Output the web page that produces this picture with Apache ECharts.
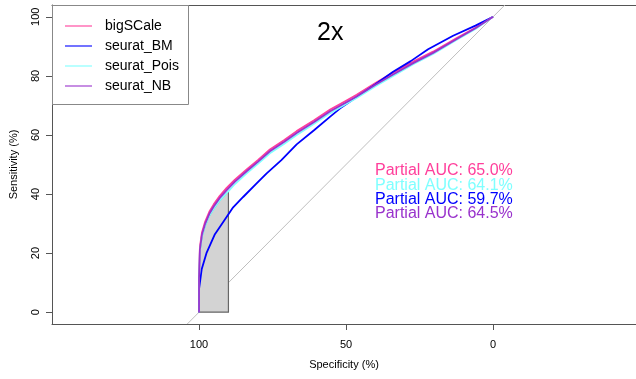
<!DOCTYPE html>
<html><head><meta charset="utf-8">
<script src="https://cdn.jsdelivr.net/npm/echarts@6/dist/echarts.min.js"></script>
<style>html,body{margin:0;padding:0;background:#fff}#c{width:636px;height:379px}</style>
</head><body><div id="c"></div>
<script>
// [specificity %, sensitivity %]
const bigSCale = [[100,0],[100,12],[99.7,22],[99,27],[98,30.4],[96.5,34],[95,36.5],[93,39.3],[90.6,42.1],[87.8,44.9],[83.8,48.3],[80,51.5],[75.9,55.1],[71,58.3],[66.8,61.3],[61,64.9],[55.4,68.6],[50,71.6],[46.4,73.6],[40,77.6],[34,81.1],[27,84.9],[20.4,88.2],[12.2,92.9],[6,96.3],[0,100]];
const seurat_BM = [[100,0],[100,7.8],[99.1,14.5],[97.4,20.2],[94.6,26.4],[91.2,31.4],[88.4,35.5],[85,39],[80.5,43.5],[77,47],[72,51.5],[66.8,56.8],[61,61.5],[55.4,66.2],[52,69],[47.6,72],[40,77.2],[34,81.4],[28,85],[22.1,89],[13.6,93.6],[6,97],[0,100]];
const seurat_Pois = [[100,0],[100,11],[99.7,20.5],[99,25.5],[98,29],[96.5,32.6],[95,35],[93,37.8],[90,41],[87.8,43.4],[83.8,47],[80,50.2],[75.9,53.8],[71,57],[66.8,60],[61,63.7],[55.4,67.4],[50,70.5],[46.4,72.5],[40,76.5],[34,80],[27,84],[20.4,87.4],[12.2,92.3],[6,95.9],[0,100]];
const seurat_NB = [[100,0],[100,11.5],[99.7,21.3],[99,26.3],[98,29.7],[96.5,33.3],[95,35.8],[93,38.6],[90.6,41.3],[87.8,44.2],[83.8,47.7],[80,50.9],[75.9,54.5],[71,57.7],[66.8,60.7],[61,64.3],[55.4,68],[50,71],[46.4,73],[40,77],[34,80.5],[27,84.4],[20.4,87.8],[12.2,92.6],[6,96.1],[0,100]];

const seriesNames = ['bigSCale','seurat_BM','seurat_Pois','seurat_NB'];
const seriesData = [bigSCale, seurat_BM, seurat_Pois, seurat_NB];
const seriesColors = ['#FF3E9B','#0000FF','#7FFFFF','#9932CC'];
const aucLabels = ['Partial AUC: 65.0%','Partial AUC: 64.1%','Partial AUC: 59.7%','Partial AUC: 64.5%'];
const aucColors = ['#FF3E9B','#7FFFFF','#0000FF','#9932CC'];
const xTicks = [0,50,100];
const yTicks = [0,20,40,60,80,100];
const diagonal = [[104,-4],[-4,104]];
const partialRange = [100,90];
const titleText = '2x';

const chart = echarts.init(document.getElementById('c'));
const FONT = 'Liberation Sans, Arial, sans-serif';

const shaded = seurat_Pois.filter(p => p[0] <= partialRange[0] && p[0] >= partialRange[1]);
const polygon = shaded.concat([[partialRange[1],0],[partialRange[0],0]]);

const series = [
  {type:'line', data: diagonal, symbol:'none', silent:true, lineStyle:{color:'#BEBEBE', width:1}, z:1},
  {type:'custom', data:[[0]], z:2, silent:true,
    renderItem: function(params, api){
      const pts = polygon.map(p => api.coord(p));
      return {type:'polygon', shape:{points:pts}, style:{fill:'#D3D3D3', stroke:'#666', lineWidth:1.2}};
    }}
];
seriesNames.forEach((n,i)=>{
  series.push({type:'line', name:n, data:seriesData[i], symbol:'none', z:3+i,
    lineStyle:{color:seriesColors[i], width:1.8}, itemStyle:{color:seriesColors[i]}});
});

const graphic = [
  {type:'rect', shape:{x:52.5,y:5.5,width:136,height:99}, style:{fill:'#fff', stroke:'#888', lineWidth:1}, z:100},
  {type:'text', left:317, top:21, style:{text:titleText, fontSize:25, fontFamily:FONT, fill:'#000'}, z:100}
];
seriesNames.forEach((n,i)=>{
  const y = 26 + i*20;
  graphic.push({type:'line', shape:{x1:65,y1:y,x2:92,y2:y}, style:{stroke:seriesColors[i], lineWidth:2, opacity:0.55}, z:101});
  graphic.push({type:'text', x:105, y:y, style:{text:n, fontSize:14, fontFamily:FONT, fill:'#000', verticalAlign:'middle'}, z:101});
});
aucLabels.forEach((t,i)=>{
  graphic.push({type:'text', x:375, y:171 + i*14.2, style:{text:t, fontSize:16, fontFamily:FONT, fill:aucColors[i], verticalAlign:'middle'}, z:101});
});

chart.setOption({
  animation:false,
  backgroundColor:'#fff',
  grid:{left:52, right:0, top:5, bottom:55, show:false},
  xAxis:[{type:'value', inverse:true, min:-48.6, max:150,
    name:'Specificity (%)', nameLocation:'middle', nameGap:35,
    nameTextStyle:{fontSize:11, fontFamily:FONT, color:'#000'},
    axisLine:{show:true, onZero:false, lineStyle:{color:'#555'}},
    axisTick:{show:true, length:6, customValues:xTicks, lineStyle:{color:'#555'}},
    axisLabel:{customValues:xTicks, fontSize:11, fontFamily:FONT, color:'#000', margin:15},
    splitLine:{show:false}},
   {type:'value', position:'top', inverse:true, min:-48.6, max:150,
    axisLine:{show:true, onZero:false, lineStyle:{color:'#555'}},
    axisTick:{show:false}, axisLabel:{show:false}, splitLine:{show:false}}],
  yAxis:{type:'value', min:-4, max:104,
    name:'Sensitivity (%)', nameLocation:'middle', nameGap:33,
    nameTextStyle:{fontSize:11, fontFamily:FONT, color:'#000'},
    axisLine:{show:true, onZero:false, lineStyle:{color:'#555'}},
    axisTick:{show:true, length:6, customValues:yTicks, lineStyle:{color:'#555'}},
    axisLabel:{customValues:yTicks, rotate:90, fontSize:11, fontFamily:FONT, color:'#000', margin:11},
    splitLine:{show:false}},
  series: series,
  graphic: graphic
});
</script>
</body></html>
